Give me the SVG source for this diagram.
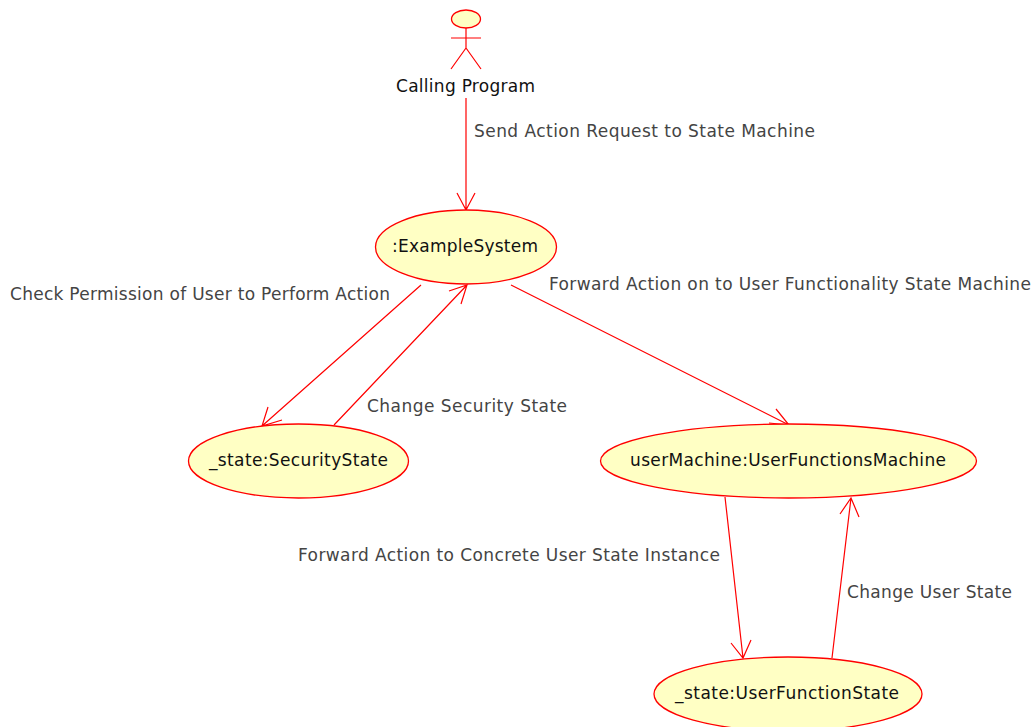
<svg xmlns="http://www.w3.org/2000/svg" width="1036" height="727" viewBox="0 0 1036 727">
<style>
.n{fill:#ffffc4;stroke:#ff0000;stroke-width:1.3}
.c{fill:none;stroke:#ff0000;stroke-width:1.2}
text{font-family:"DejaVu Sans",sans-serif;font-size:17px}
.t{fill:#111}
.l{fill:#444}
</style>
<rect width="1036" height="727" fill="#fff"/>
<g id="connectors">
<path class="c" d="M466 98V210M457 193L466 210L475 193"/>
<path class="c" d="M421 285L262 426M268 407L262 426L282 420"/>
<path class="c" d="M334 425L467 285M449 291L467 285L461 304"/>
<path class="c" d="M511 285L789 425M769 423L789 425L776 409"/>
<path class="c" d="M725 497L743 658M731 643L743 658L751 640"/>
<path class="c" d="M832 658L851 498M840 514L851 498L859 517"/>
</g>
<g id="labels">
<text class="l" x="474" y="137" textLength="341">Send Action Request to State Machine</text>
<text class="l" x="10" y="300" textLength="380">Check Permission of User to Perform Action</text>
<text class="l" x="549" y="290" textLength="482">Forward Action on to User Functionality State Machine</text>
<text class="l" x="367" y="412" textLength="200">Change Security State</text>
<text class="l" x="298" y="561" textLength="422">Forward Action to Concrete User State Instance</text>
<text class="l" x="847" y="598" textLength="165">Change User State</text>
</g>
<g id="actor">
<ellipse class="n" cx="466" cy="19" rx="14.500" ry="9"/>
<path class="c" d="M466 28V48M451 38H481M466 48L451 69M466 48L481 69"/>
<text class="t" x="396" y="92" textLength="139">Calling Program</text>
</g>
<g id="exampleSystem">
<ellipse class="n" cx="466" cy="247" rx="90.500" ry="37"/>
<text class="t" x="392" y="252" textLength="146">:ExampleSystem</text>
</g>
<g id="securityState">
<ellipse class="n" cx="298.500" cy="461" rx="110" ry="37"/>
<text class="t" x="209" y="466" textLength="179">_state:SecurityState</text>
</g>
<g id="userMachine">
<ellipse class="n" cx="788.500" cy="461" rx="188" ry="37"/>
<text class="t" x="630" y="466" textLength="316">userMachine:UserFunctionsMachine</text>
</g>
<g id="userFunctionState">
<ellipse class="n" cx="788" cy="694" rx="134" ry="37"/>
<text class="t" x="675" y="699" textLength="224">_state:UserFunctionState</text>
</g>
</svg>
